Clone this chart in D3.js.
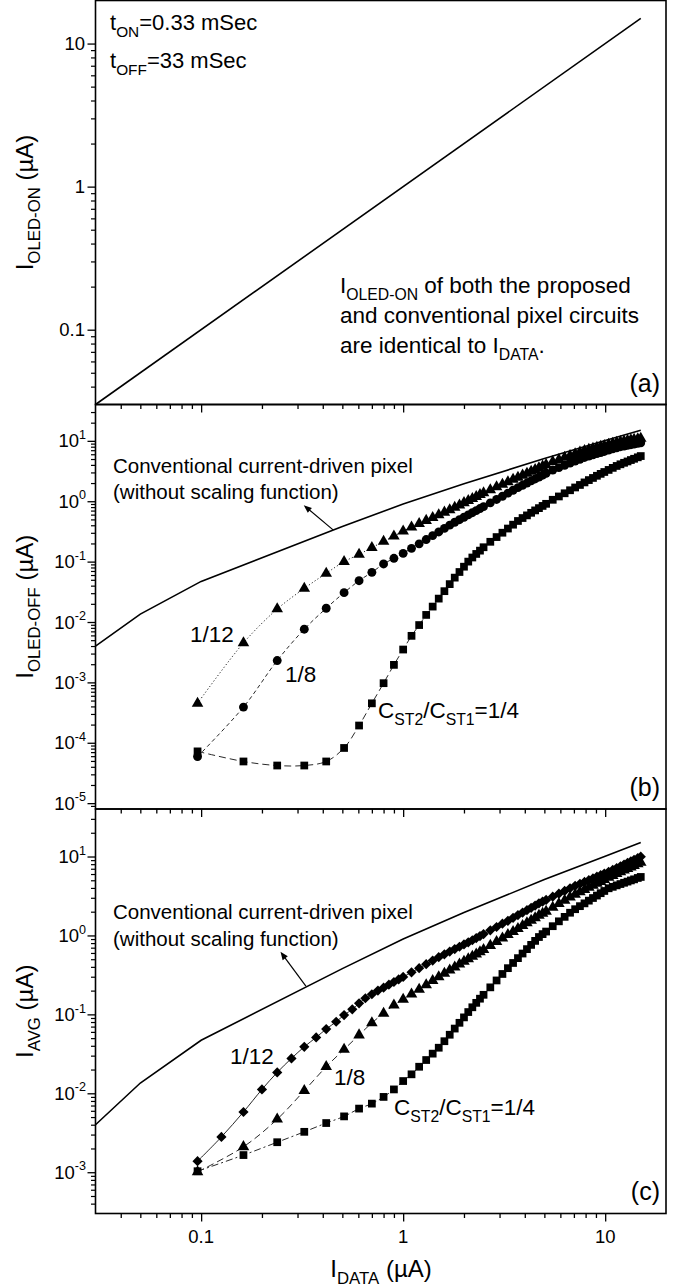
<!DOCTYPE html>
<html><head><meta charset="utf-8">
<script src="https://cdn.jsdelivr.net/npm/d3@7"></script>
<style>
html,body{margin:0;padding:0;background:#fff;}
svg{display:block;font-family:"Liberation Sans",Arial,Helvetica,sans-serif;}
</style></head><body>
<svg id="chart" width="679" height="1288"></svg>
<script>
// ---------- data (currents in µA) ----------
// (a) OLED current during the ON period equals I_DATA
const onX = [0.03, 15];
const onY = [0.03, 15];

// conventional current-driven pixel (no scaling)
const convX = [0.03, 0.05, 0.1, 0.5, 1, 2, 5, 10, 15];
const convY = [0.004, 0.0135, 0.047, 0.38, 0.9, 1.95, 5.1, 10.1, 15];

// I_DATA sweep points
const gridX = [0.096, 0.162, 0.238, 0.324, 0.416, 0.51, 0.605, 0.70, 0.80, 0.90, 1.0,
  1.1, 1.2, 1.3, 1.4, 1.5, 1.6, 1.7, 1.8, 1.9, 2.0, 2.1, 2.2, 2.3, 2.4, 2.5,
  2.7, 2.9, 3.1, 3.3, 3.5, 3.7, 3.9, 4.1, 4.3, 4.5, 4.7, 4.9, 5.1,
  5.5, 5.9, 6.3, 6.7, 7.1, 7.5, 7.9, 8.3, 8.7, 9.1, 9.5, 9.9,
  10.4, 10.9, 11.4, 11.9, 12.4, 12.9, 13.4, 13.9, 14.5, 15.0];

// (b) I_OLED-OFF for C_ST2/C_ST1 = 1/12, 1/8, 1/4
const offR12 = [4.5e-4, 4.5e-3, 0.0164, 0.036, 0.064, 0.0998, 0.132, 0.170, 0.216, 0.264, 0.32,
  0.371, 0.425, 0.479, 0.536, 0.596, 0.656, 0.720, 0.789, 0.863, 0.942, 1.02, 1.10, 1.19, 1.28, 1.37,
  1.54, 1.72, 1.90, 2.09, 2.29, 2.49, 2.69, 2.90, 3.11, 3.33, 3.56, 3.79, 4.03,
  4.52, 4.90, 5.30, 5.69, 6.09, 6.49, 6.90, 7.21, 7.50, 7.78, 8.07, 8.35,
  8.71, 9.04, 9.39, 9.68, 9.91, 10.12, 10.33, 10.55, 10.79, 11.0];
const offR8 = [5.9e-5, 3.9e-4, 2.3e-3, 7.6e-3, 0.0169, 0.0306, 0.0483, 0.0665, 0.0914, 0.1135, 0.137,
  0.166, 0.197, 0.232, 0.270, 0.310, 0.355, 0.402, 0.449, 0.494, 0.543, 0.594, 0.646, 0.700, 0.757, 0.815,
  0.940, 1.07, 1.21, 1.36, 1.52, 1.68, 1.84, 2.00, 2.17, 2.34, 2.52, 2.70, 2.90,
  3.29, 3.61, 3.94, 4.27, 4.61, 4.95, 5.31, 5.60, 5.86, 6.14, 6.41, 6.68,
  7.01, 7.35, 7.69, 8.00, 8.20, 8.43, 8.63, 8.85, 9.10, 9.29];
const offR4 = [7.2e-5, 4.9e-5, 4.2e-5, 4.2e-5, 4.9e-5, 8.2e-5, 1.93e-4, 4.5e-4, 9.7e-4, 1.95e-3, 3.5e-3,
  5.9e-3, 8.9e-3, 0.0131, 0.018, 0.0244, 0.0324, 0.0424, 0.0543, 0.0673, 0.0824, 0.100, 0.117, 0.134, 0.152, 0.173,
  0.213, 0.255, 0.301, 0.353, 0.409, 0.471, 0.527, 0.583, 0.643, 0.705, 0.769, 0.836, 0.906,
  1.057, 1.20, 1.355, 1.52, 1.69, 1.86, 2.05, 2.24, 2.43, 2.64, 2.84, 3.05,
  3.30, 3.57, 3.84, 4.09, 4.33, 4.56, 4.81, 5.05, 5.34, 5.60];

// (c) average current; the 1/12 case was swept with a finer step at low I_DATA
const avgX12 = [0.096, 0.126, 0.162, 0.20, 0.238, 0.28, 0.324, 0.371, 0.416, 0.466, 0.51, 0.56, 0.605, 0.65,
  0.70, 0.75, 0.80, 0.85, 0.90, 0.95, 1.0,
  1.1, 1.2, 1.3, 1.4, 1.5, 1.6, 1.7, 1.8, 1.9, 2.0, 2.1, 2.2, 2.3, 2.4, 2.5,
  2.7, 2.9, 3.1, 3.3, 3.5, 3.7, 3.9, 4.1, 4.3, 4.5, 4.7, 4.9, 5.1,
  5.5, 5.9, 6.3, 6.7, 7.1, 7.5, 7.9, 8.3, 8.7, 9.1, 9.5, 9.9,
  10.4, 10.9, 11.4, 11.9, 12.4, 12.9, 13.4, 13.9, 14.5, 15.0];
const avgR12 = [1.38e-3, 2.8e-3, 5.8e-3, 0.0112, 0.0184, 0.0277, 0.0388, 0.0511, 0.0652, 0.0806, 0.098, 0.116, 0.138, 0.16,
  0.180, 0.200, 0.218, 0.238, 0.257, 0.277, 0.298,
  0.341, 0.385, 0.432, 0.480, 0.530, 0.577, 0.624, 0.671, 0.719, 0.769, 0.818, 0.869, 0.925, 0.982, 1.04,
  1.16, 1.28, 1.41, 1.53, 1.67, 1.81, 1.95, 2.09, 2.24, 2.39, 2.55, 2.69, 2.82,
  3.10, 3.38, 3.67, 3.96, 4.25, 4.51, 4.76, 5.02, 5.28, 5.55, 5.81, 6.08,
  6.40, 6.77, 7.15, 7.53, 7.91, 8.30, 8.69, 9.08, 9.57, 9.95];
const avgR8 = [1.01e-3, 2.1e-3, 4.7e-3, 0.0108, 0.0217, 0.036, 0.0547, 0.078, 0.103, 0.131, 0.155,
  0.18, 0.207, 0.236, 0.267, 0.299, 0.331, 0.363, 0.397, 0.432, 0.468, 0.505, 0.542, 0.581, 0.619, 0.661,
  0.745, 0.832, 0.923, 1.02, 1.12, 1.22, 1.33, 1.44, 1.55, 1.67, 1.79, 1.90, 2.02,
  2.26, 2.52, 2.77, 3.05, 3.30, 3.55, 3.79, 4.05, 4.30, 4.56, 4.82, 5.08,
  5.42, 5.73, 6.05, 6.37, 6.70, 7.02, 7.35, 7.67, 8.07, 8.41];
const avgR4 = [1.03e-3, 1.65e-3, 2.4e-3, 3.25e-3, 4.2e-3, 5.1e-3, 6.4e-3, 7.4e-3, 9.0e-3, 0.0112, 0.0143,
  0.0174, 0.0217, 0.0264, 0.0318, 0.0378, 0.0457, 0.0552, 0.0661, 0.0782, 0.0916, 0.107, 0.123, 0.140, 0.158, 0.177,
  0.220, 0.269, 0.325, 0.385, 0.448, 0.516, 0.590, 0.671, 0.759, 0.853, 0.955, 1.04, 1.12,
  1.31, 1.51, 1.72, 1.94, 2.15, 2.35, 2.55, 2.76, 2.98, 3.20, 3.43, 3.66,
  3.96, 4.13, 4.31, 4.48, 4.65, 4.81, 4.98, 5.14, 5.35, 5.51];

// axis ticks
const xMajor = [0.1, 1, 10];
const xMajorLabels = ["0.1", "1", "10"];
const aMajor = [0.1, 1, 10];
const aMajorLabels = ["0.1", "1", "10"];
const bExponents = [-5, -4, -3, -2, -1, 0, 1];
const cExponents = [-3, -2, -1, 0, 1];

// ---------- layout ----------
const FONT = '"Liberation Sans", Arial, Helvetica, sans-serif';
const svg = d3.select("#chart");
const L = 95.5, R = 666;
const x = d3.scaleLog().domain([0.03, 20]).range([L, R]);

const panels = {
  a: {top: 0.5, bottom: 404.5, domain: [0.03, 20]},
  b: {top: 404.5, bottom: 809, domain: [8e-6, 40]},
  c: {top: 809, bottom: 1213.5, domain: [3e-4, 40]}
};
Object.values(panels).forEach(p => {
  p.y = d3.scaleLog().domain(p.domain).range([p.bottom, p.top]);
});

function minorTicks(domain) {
  const out = [];
  const lo = Math.floor(Math.log10(domain[0])), hi = Math.ceil(Math.log10(domain[1]));
  for (let e = lo; e <= hi; e++) {
    for (let k = 2; k <= 9; k++) {
      const v = k * Math.pow(10, e);
      if (v > domain[0] * 1.0001 && v < domain[1] * 0.9999) out.push(v);
    }
  }
  return out;
}

const xMinor = minorTicks(x.domain());

function drawFrame(p) {
  const g = svg.append("g");
  // x ticks (outward, below the panel)
  g.append("g").attr("transform", `translate(0,${p.bottom})`)
    .call(d3.axisBottom(x).tickValues(xMinor).tickSize(4.5).tickFormat(""))
    .call(s => s.select(".domain").remove())
    .call(s => s.selectAll("line").attr("stroke", "#000").attr("stroke-width", 1.3));
  g.append("g").attr("transform", `translate(0,${p.bottom})`)
    .call(d3.axisBottom(x).tickValues(xMajor).tickSize(8).tickFormat(""))
    .call(s => s.select(".domain").remove())
    .call(s => s.selectAll("line").attr("stroke", "#000").attr("stroke-width", 1.3));
  // y ticks (outward, left)
  const yMinor = minorTicks(p.y.domain());
  const yMaj = d3.range(Math.ceil(Math.log10(p.y.domain()[0])), Math.floor(Math.log10(p.y.domain()[1])) + 1)
    .map(e => Math.pow(10, e));
  g.append("g").attr("transform", `translate(${L},0)`)
    .call(d3.axisLeft(p.y).tickValues(yMinor).tickSize(4.5).tickFormat(""))
    .call(s => s.select(".domain").remove())
    .call(s => s.selectAll("line").attr("stroke", "#000").attr("stroke-width", 1.2));
  g.append("g").attr("transform", `translate(${L},0)`)
    .call(d3.axisLeft(p.y).tickValues(yMaj).tickSize(8).tickFormat(""))
    .call(s => s.select(".domain").remove())
    .call(s => s.selectAll("line").attr("stroke", "#000").attr("stroke-width", 1.3));
  // panel box
  g.append("rect").attr("x", L).attr("y", p.top).attr("width", R - L).attr("height", p.bottom - p.top)
    .attr("fill", "none").attr("stroke", "#000").attr("stroke-width", 1.6);
}
Object.values(panels).forEach(drawFrame);

// text helper: array of [text, kind] where kind is "n" (normal), "sub", "sup"
function richText(parent, xPos, yPos, parts, size, anchor) {
  const t = parent.append("text").attr("x", xPos).attr("y", yPos)
    .attr("font-family", FONT).attr("font-size", size).attr("fill", "#000")
    .attr("text-anchor", anchor || "start");
  let shift = 0;
  parts.forEach(([s, kind]) => {
    const sp = t.append("tspan").text(s);
    let target = 0, fs = size;
    if (kind === "sub") { target = size * 0.3; fs = size * 0.7; }
    if (kind === "sup") { target = -size * 0.45; fs = size * 0.68; }
    sp.attr("dy", target - shift).attr("font-size", fs);
    shift = target;
  });
  return t;
}

// ---------- y tick labels ----------
const A = panels.a, B = panels.b, C = panels.c;
aMajor.forEach((v, i) => {
  svg.append("text").attr("x", 85).attr("y", A.y(v) + 6.5).attr("text-anchor", "end")
    .attr("font-family", FONT).attr("font-size", 18.5).text(aMajorLabels[i]);
});
function decadeLabels(p, exps) {
  exps.forEach(e => {
    richText(svg, 86, p.y(Math.pow(10, e)) + 6.5, [["10", "n"], [String(e), "sup"]], 18.5, "end");
  });
}
decadeLabels(B, bExponents);
decadeLabels(C, cExponents);

// x tick labels (bottom panel only)
xMajor.forEach((v, i) => {
  svg.append("text").attr("x", x(v)).attr("y", C.bottom + 29).attr("text-anchor", "middle")
    .attr("font-family", FONT).attr("font-size", 18.5).text(xMajorLabels[i]);
});

// ---------- axis titles ----------
function yTitle(cy, parts) {
  const g = svg.append("g").attr("transform", `translate(33,${cy}) rotate(-90)`);
  richText(g, 0, 0, parts, 24, "middle");
}
yTitle((A.top + A.bottom) / 2, [["I", "n"], ["OLED-ON", "sub"], [" (\u00B5A)", "n"]]);
yTitle((B.top + B.bottom) / 2, [["I", "n"], ["OLED-OFF", "sub"], [" (\u00B5A)", "n"]]);
yTitle((C.top + C.bottom) / 2, [["I", "n"], ["AVG", "sub"], [" (\u00B5A)", "n"]]);
richText(svg, 381, 1277, [["I", "n"], ["DATA", "sub"], [" (\u00B5A)", "n"]], 24, "middle");

// ---------- panel (a) ----------
const lineGen = (p) => d3.line().x(d => x(d[0])).y(d => p.y(d[1]));
svg.append("path").datum(d3.zip(onX, onY)).attr("d", lineGen(A))
  .attr("fill", "none").attr("stroke", "#000").attr("stroke-width", 1.6);

richText(svg, 110, 30, [["t", "n"], ["ON", "sub"], ["=0.33 mSec", "n"]], 22);
richText(svg, 110, 68, [["t", "n"], ["OFF", "sub"], ["=33 mSec", "n"]], 22);
richText(svg, 340, 293, [["I", "n"], ["OLED-ON", "sub"], [" of both the proposed", "n"]], 22.5);
richText(svg, 340, 323, [["and conventional pixel circuits", "n"]], 22.5);
richText(svg, 340, 353, [["are identical to I", "n"], ["DATA", "sub"], [".", "n"]], 22.5);
svg.append("text").attr("x", 660).attr("y", 392).attr("text-anchor", "end")
  .attr("font-family", FONT).attr("font-size", 25).text("(a)");

// ---------- shared drawing for (b) and (c) ----------
const sym = {
  square: d3.symbol().type(d3.symbolSquare).size(60),
  circle: d3.symbol().type(d3.symbolCircle).size(62),
  triangle: d3.symbol().type(d3.symbolTriangle).size(58),
  diamond: d3.symbol().type(d3.symbolSquare).size(52)
};

function series(p, xs, ys, shape, dash) {
  const pts = d3.zip(xs, ys);
  svg.append("path").datum(pts)
    .attr("d", d3.line().x(d => x(d[0])).y(d => p.y(d[1])).curve(d3.curveCatmullRom.alpha(0.5)))
    .attr("fill", "none").attr("stroke", "#111").attr("stroke-width", 0.9)
    .attr("stroke-dasharray", dash);
  svg.append("g").selectAll("path").data(pts).join("path")
    .attr("d", sym[shape])
    .attr("transform", d => `translate(${x(d[0])},${p.y(d[1])})` + (shape === "diamond" ? " rotate(45)" : ""))
    .attr("fill", "#000");
}

function conventional(p, tail, head) {
  svg.append("path").datum(d3.zip(convX, convY)).attr("d", lineGen(p))
    .attr("fill", "none").attr("stroke", "#000").attr("stroke-width", 1.6);
  // annotation arrow pointing from the curve to its label
  const x0 = x(tail[0]), y0 = p.y(tail[1]), x1 = x(head[0]), y1 = p.y(head[1]);
  const ang = Math.atan2(y1 - y0, x1 - x0), hl = 8, hw = 3.2;
  svg.append("line").attr("x1", x0).attr("y1", y0)
    .attr("x2", x1 - Math.cos(ang) * hl * 0.6).attr("y2", y1 - Math.sin(ang) * hl * 0.6)
    .attr("stroke", "#000").attr("stroke-width", 1.2);
  const bx = x1 - Math.cos(ang) * hl, by = y1 - Math.sin(ang) * hl;
  svg.append("path").attr("d",
    `M${x1},${y1}L${bx + Math.sin(ang) * hw},${by - Math.cos(ang) * hw}L${bx - Math.sin(ang) * hw},${by + Math.cos(ang) * hw}Z`)
    .attr("fill", "#000");
}

// ---------- panel (b) ----------
conventional(B, [0.45, 0.335], [0.322, 0.86]);
series(B, gridX, offR4, "square", "7,4");
series(B, gridX, offR8, "circle", "4,3");
series(B, gridX, offR12, "triangle", "1.2,2.2");
richText(svg, 113, 473, [["Conventional current-driven pixel", "n"]], 20.5);
richText(svg, 113, 499, [["(without scaling function)", "n"]], 20.5);
richText(svg, 190, 642, [["1/12", "n"]], 22.5);
richText(svg, 285, 682, [["1/8", "n"]], 22.5);
richText(svg, 378, 718, [["C", "n"], ["ST2", "sub"], ["/C", "n"], ["ST1", "sub"], ["=1/4", "n"]], 22.5);
svg.append("text").attr("x", 660).attr("y", 796).attr("text-anchor", "end")
  .attr("font-family", FONT).attr("font-size", 25).text("(b)");

// ---------- panel (c) ----------
conventional(C, [0.33, 0.228], [0.247, 0.62]);
series(C, gridX, avgR4, "square", "7,3,2,3");
series(C, gridX, avgR8, "triangle", "7,4");
series(C, avgX12, avgR12, "diamond", null);
richText(svg, 113, 919, [["Conventional current-driven pixel", "n"]], 20.5);
richText(svg, 113, 946, [["(without scaling function)", "n"]], 20.5);
richText(svg, 230, 1064, [["1/12", "n"]], 22.5);
richText(svg, 334, 1085, [["1/8", "n"]], 22.5);
richText(svg, 394, 1115, [["C", "n"], ["ST2", "sub"], ["/C", "n"], ["ST1", "sub"], ["=1/4", "n"]], 22.5);
svg.append("text").attr("x", 660).attr("y", 1200).attr("text-anchor", "end")
  .attr("font-family", FONT).attr("font-size", 25).text("(c)");
</script>
</body></html>
